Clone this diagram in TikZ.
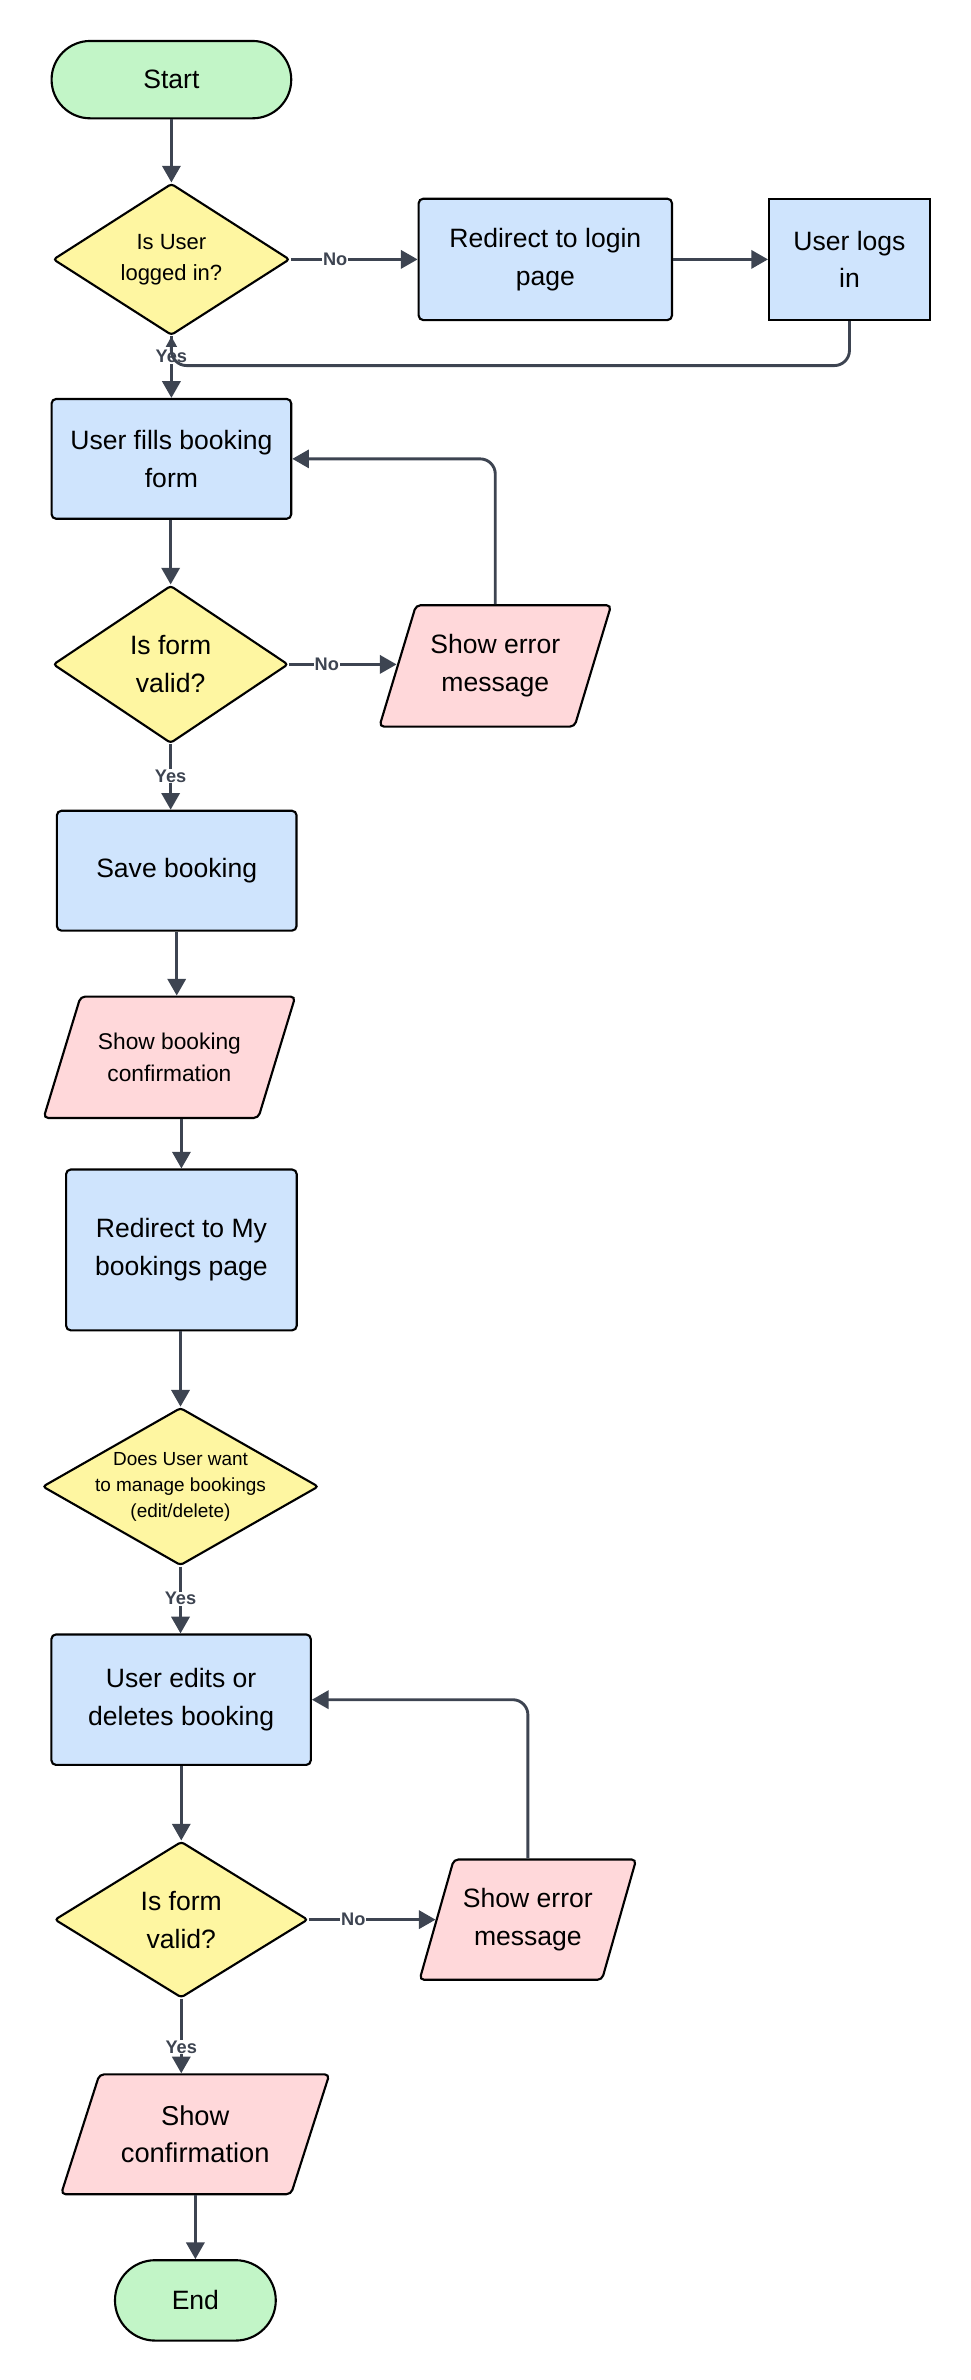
\documentclass[tikz,border=0pt]{standalone}
\usepackage{fontspec}
\setmainfont{Liberation Sans}
\usepackage{tikz}
\usetikzlibrary{
  shapes.geometric,
  shapes.misc,
  arrows.meta,
  }
\definecolor{termgreen}{HTML}{C2F5C7}
\definecolor{procblue}{HTML}{CFE4FD}
\definecolor{decyellow}{HTML}{FEF6A1}
\definecolor{iopink}{HTML}{FFD8DA}
\definecolor{flowgray}{HTML}{3D4451}

\begin{document}
\begin{tikzpicture}[x=1pt,y=-1pt,
    mybase/.style={draw, line width=1.4pt, align=center, inner sep=0pt, font=\fontsize{17.5}{25}\selectfont},
    myterm/.style={mybase, rounded rectangle, fill=termgreen},
    myproc/.style={mybase, rectangle, rounded corners=3pt, fill=procblue},
    mydec/.style={mybase, diamond, rounded corners=2pt, fill=decyellow},
    myio/.style={mybase, trapezium, trapezium left angle=76, trapezium right angle=104, trapezium stretches, rounded corners=3pt, fill=iopink},
    myflow/.style={draw=flowgray, line width=1.9pt, -{Triangle[length=11pt,width=12pt]}},
    mylab/.style={fill=white, text=flowgray, inner sep=0.5pt, font=\fontsize{12}{14}\selectfont\bfseries}]
                        \useasboundingbox (0,0) rectangle (640,1569);
                        \node[myterm, minimum width=158pt, minimum height=51pt] (start) at (113, 52.5) {Start};
                        \node[mydec, shape aspect=1.56, minimum width=156pt, minimum height=100pt, font=\fontsize{14.5}{20.5}\selectfont] (dlog) at (113, 171) {Is User\\logged in?};
                        \node[myproc, minimum width=167pt, minimum height=80pt] (login) at (359.5, 171) {Redirect to login\\page};
                        \node[myproc, sharp corners, minimum width=106pt, minimum height=80pt] (logsin) at (560, 171) {User logs\\in};
                        \node[myproc, minimum width=158pt, minimum height=79pt] (fill) at (113, 302.5) {User fills booking\\form};
                        \node[mydec, shape aspect=1.49, minimum width=155pt, minimum height=104pt] (dvalid1) at (112.5, 438) {Is form\\valid?};
                        \node[myio, inner ysep=19pt, minimum width=153pt, minimum height=80pt] (err1) at (326.5, 439) {Show error\\message};
                        \node[myproc, minimum width=158pt, minimum height=79pt] (save) at (116.5, 574) {Save booking};
                        \node[myio, inner ysep=23pt, minimum width=166pt, minimum height=80pt, font=\fontsize{15}{21.5}\selectfont] (showbk) at (111.7, 697) {Show booking\\confirmation};
                        \node[myproc, minimum width=152pt, minimum height=106pt] (mybk) at (119.6, 824) {Redirect to My\\bookings page};
                        \node[mydec, shape aspect=1.75, minimum width=182pt, minimum height=104pt, inner ysep=-6pt, font=\fontsize{12.5}{17.2}\selectfont] (dmanage) at (119, 980) {Does User want\\to manage bookings\\(edit/delete)};
                        \node[myproc, minimum width=171pt, minimum height=86pt] (edit) at (119.4, 1120.5) {User edits or\\deletes booking};
                        \node[mydec, shape aspect=1.62, minimum width=167pt, minimum height=103pt] (dvalid2) at (119.5, 1265.5) {Is form\\valid?};
                        \node[myio, inner ysep=19pt, minimum width=143pt, minimum height=79pt] (err2) at (348, 1265.5) {Show error\\message};
                        \node[myio, inner ysep=20.5pt, minimum width=177pt, minimum height=79pt, font=\fontsize{18}{24.5}\selectfont] (showcf) at (128.7, 1407) {Show\\confirmation};
                        \node[myterm, minimum width=106pt, minimum height=53pt] (finish) at (128.8, 1516.5) {End};
                        \coordinate (yesjoin) at (113, 241);

                        \foreach \from/\to in {start/dlog, fill/dvalid1, showbk/mybk, mybk/dmanage, edit/dvalid2, showcf/finish}
                            \draw[myflow] (\to.north |- \from.south) -- (\to.north);
                        \draw[myflow] (save.south) -- (save.south |- showbk.north);
                        \draw[myflow] (login.east) -- (logsin.west);
                        \foreach \from/\to/\p in {dlog/fill/0.33, dvalid1/save/0.49, dmanage/edit/0.48, dvalid2/showcf/0.65}
                            \draw[myflow] (\from.south) -- (\from.south |- \to.north) node[mylab, pos=\p] {Yes};
                        \foreach \from/\to in {dlog/login, dvalid1/err1, dvalid2/err2}
                            \draw[myflow] (\from.east) -- (\from.east -| \to.west) node[mylab, pos=0.35] {No};
                        \foreach \from/\to in {err1/fill, err2/edit}
                            \draw[myflow, rounded corners=10pt] (\from.north) |- (\to.east);
                        \draw[myflow, -{Triangle[length=7pt,width=7pt]}, rounded corners=10pt] (logsin.south) |- (yesjoin) -- (dlog.south);
                    \end{tikzpicture}
\end{document}
